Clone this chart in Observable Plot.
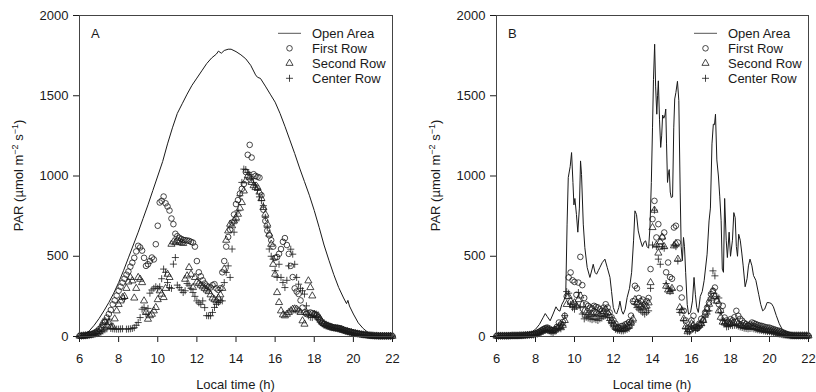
<!DOCTYPE html>
<html><head><meta charset="utf-8">
<script src="https://cdn.jsdelivr.net/npm/d3@7"></script>
<script src="https://cdn.jsdelivr.net/npm/@observablehq/plot@0.6"></script>
<style>
body{margin:0;background:#fff;}
#wrap{display:flex;width:816px;height:392px;overflow:hidden;}
#wrap svg{font-family:"Liberation Sans",Arial,sans-serif;}
</style></head><body><div id="wrap"></div>
<script>
const xTicks = [6, 8, 10, 12, 14, 16, 18, 20, 22];
const yTicks = [0, 500, 1000, 1500, 2000];
const seriesNames = ["Open Area", "First Row", "Second Row", "Center Row"];
const panelLabels = ["A", "B"];
const xTitle = "Local time (h)";
// scatter series are sampled every 0.1 h from 6.0 to 22.0 h
const sampleStart = 6, sampleStep = 0.1;

// ---- Panel A ----
const openATime = [6.0,6.25,6.5,6.75,7.0,7.25,7.5,7.75,8.0,8.25,8.5,8.75,9.0,9.25,9.5,9.75,10.0,10.25,10.5,10.75,11.0,11.25,11.5,11.75,12.0,12.25,12.5,12.75,13.0,13.1,13.25,13.4,13.6,13.75,14.0,14.25,14.5,14.75,15.0,15.1,15.25,15.5,15.75,16.0,16.25,16.5,16.75,17.0,17.25,17.5,17.75,18.0,18.25,18.5,18.75,19.0,19.25,19.5,19.65,19.72,19.8,20.0,20.25,20.5,20.75,21.0,21.5,22.0];
const openAValue = [5,12,35,70,112,160,212,270,336,410,490,570,650,735,820,910,1000,1090,1200,1300,1390,1450,1510,1565,1610,1655,1700,1735,1760,1778,1765,1782,1790,1790,1775,1755,1730,1690,1630,1615,1608,1560,1510,1460,1390,1310,1225,1140,1050,965,880,785,680,570,475,385,305,240,205,225,190,140,85,50,25,8,2,0];
const firstRowA = [3,4,5,6,8,10,13,18,25,33,
45,55,70,90,118,140,165,200,225,255,
285,310,335,360,385,405,435,460,490,530,
565,555,535,490,440,450,470,492,480,575,
690,835,845,872,830,810,785,735,700,640,
625,615,608,602,600,598,596,590,585,560,
470,400,375,350,330,316,308,305,320,326,
300,290,300,400,470,560,620,665,710,760,
825,850,890,920,950,1025,1132,1194,1115,1011,
1000,995,990,880,790,720,660,630,600,560,
490,495,515,545,590,613,570,515,440,370,
300,280,265,225,180,150,140,145,150,145,
139,132,120,100,85,77,72,68,64,60,
56,55,54,52,48,42,38,35,32,28,
25,22,19,16,14,12,10,8,6,5,
4,3,3,2,2,2,2,2,2,2,
2];
const secondRowA = [3,3,4,5,6,8,10,13,17,22,
30,45,87,95,70,87,60,60,110,160,
200,222,243,250,300,340,368,347,240,300,
368,357,336,222,150,108,130,139,160,181,
230,285,264,243,300,388,368,575,590,585,
597,590,585,580,357,378,430,388,305,368,
340,330,320,310,300,290,280,260,240,230,
222,240,260,300,420,600,658,700,690,720,
740,762,800,835,907,970,1001,990,960,940,
928,928,900,860,804,762,700,638,575,450,
388,274,212,160,135,129,139,150,160,170,
172,170,160,150,98,77,150,347,305,253,
139,135,129,110,90,80,72,66,60,56,
52,50,48,46,42,38,34,30,27,24,
21,18,16,14,12,10,8,7,6,5,
4,3,3,2,2,2,2,2,2,2,
2];
const centerRowA = [2,3,4,5,6,8,10,12,15,18,
22,28,35,42,48,108,50,48,47,46,
46,47,48,237,46,47,48,50,55,70,
87,118,170,180,140,175,270,290,300,310,
300,310,360,420,400,336,305,300,451,492,
320,305,290,274,285,330,320,300,274,250,
222,210,200,222,180,130,129,129,150,181,
200,212,222,222,336,399,440,368,545,650,
721,783,877,960,1043,1040,1022,1010,985,960,
939,910,870,846,815,742,680,545,500,482,
410,368,450,368,336,305,350,440,544,513,
450,368,326,300,285,264,191,129,120,118,
129,120,105,90,80,70,66,62,58,55,
52,50,48,45,42,38,34,30,27,24,
21,18,16,14,12,10,8,7,6,5,
4,3,3,2,2,2,2,2,2,2,
2];

// ---- Panel B ----
const openBTime = [6.0,6.5,7.0,7.5,7.8,8.0,8.2,8.4,8.5,8.6,8.75,8.9,9.05,9.15,9.25,9.35,9.45,9.55,9.62,9.68,9.78,9.85,9.92,9.97,10.02,10.1,10.17,10.25,10.31,10.36,10.45,10.53,10.65,10.79,10.9,10.96,11.05,11.13,11.22,11.3,11.42,11.56,11.68,11.82,11.9,11.99,12.08,12.16,12.27,12.33,12.42,12.5,12.6,12.7,12.82,12.93,13.03,13.1,13.18,13.27,13.38,13.48,13.58,13.65,13.72,13.8,13.87,13.94,14.0,14.05,14.11,14.16,14.22,14.26,14.3,14.36,14.42,14.47,14.52,14.58,14.64,14.68,14.72,14.77,14.82,14.86,14.91,14.96,15.03,15.09,15.14,15.2,15.28,15.35,15.42,15.47,15.53,15.59,15.64,15.7,15.78,15.85,15.95,16.05,16.13,16.2,16.27,16.35,16.45,16.55,16.65,16.8,16.9,16.97,17.05,17.12,17.18,17.23,17.3,17.38,17.45,17.52,17.58,17.64,17.7,17.78,17.84,17.93,18.0,18.1,18.17,18.24,18.3,18.36,18.42,18.5,18.58,18.65,18.75,18.85,18.92,19.0,19.1,19.18,19.3,19.45,19.55,19.65,19.75,19.88,20.0,20.1,20.2,20.35,20.5,20.65,20.8,21.0,21.5,22.0];
const openBValue = [5,6,8,15,28,45,75,120,143,125,98,140,185,165,158,200,222,260,700,990,1060,1146,960,820,860,760,650,800,1094,1010,700,554,430,368,420,450,400,388,410,430,460,482,430,368,280,181,150,140,180,220,160,139,170,243,300,400,600,783,760,658,600,560,590,596,560,550,680,960,1300,1600,1821,1560,1385,1500,1593,1350,1178,1250,1380,1360,1380,1417,1200,960,1020,1040,900,866,870,1300,1480,1520,1590,1470,900,560,472,617,560,400,200,139,150,222,368,260,180,150,250,280,350,513,720,800,1200,1323,1320,1385,1100,1000,870,721,420,400,860,600,492,650,500,600,772,740,560,500,637,600,520,440,310,360,440,482,440,380,350,260,200,160,170,212,210,205,185,130,80,45,25,10,5,5];
const firstRowB = [3,3,3,3,3,3,3,4,4,4,
4,5,5,6,7,8,9,10,12,14,
18,24,30,38,46,52,56,50,42,40,
45,60,87,75,90,129,250,368,399,350,
340,260,336,496,320,240,200,191,180,175,
191,185,181,170,160,180,201,181,150,120,
100,80,60,55,65,66,75,80,90,130,
220,316,300,240,220,230,200,220,240,420,
731,845,617,700,560,617,648,400,461,370,
360,679,690,586,300,243,160,100,50,60,
100,129,60,50,80,110,100,150,180,212,
264,285,305,222,201,160,191,118,100,90,
108,100,120,160,129,110,98,85,77,70,
75,87,82,77,72,68,66,62,58,56,
55,50,46,42,38,35,30,25,20,15,
10,7,5,4,4,4,4,4,4,4,
4];
const secondRowB = [3,3,3,3,3,3,3,3,4,4,
4,4,5,5,6,7,8,9,10,12,
15,20,26,32,38,42,45,40,33,30,
40,50,60,55,70,100,200,250,220,200,
210,190,230,253,200,160,150,140,135,140,
150,145,140,135,140,155,170,150,130,100,
80,60,50,45,42,45,50,60,70,90,
110,230,210,200,190,180,185,190,210,336,
679,787,570,520,590,620,560,314,290,280,
300,565,580,482,180,160,110,60,30,40,
80,70,50,60,70,80,100,140,170,201,
240,280,250,220,160,120,90,85,80,78,
80,82,85,90,80,70,66,62,60,58,
60,62,58,55,50,45,43,40,38,36,
35,33,30,27,23,20,16,13,10,8,
6,5,4,4,4,4,4,4,4,4,
4];
const centerRowB = [3,3,3,3,3,3,3,3,4,4,
4,4,5,5,6,6,7,8,9,10,
12,16,22,28,33,38,40,36,28,25,
35,45,50,48,70,130,280,270,200,180,
170,190,274,180,140,110,120,115,110,105,
110,105,100,110,115,125,130,120,100,80,
60,45,40,38,35,35,40,45,50,70,
90,200,180,170,160,150,140,150,160,300,
570,787,560,482,450,560,550,330,300,280,
290,570,560,470,150,170,100,50,30,30,
60,50,40,50,60,70,90,120,140,160,
240,409,378,250,240,150,100,80,60,62,
70,68,70,70,65,60,56,52,50,48,
50,52,48,45,42,40,38,35,33,31,
30,28,25,22,18,15,12,10,8,6,
5,4,4,4,4,4,4,4,4,4,
4];

const FONT = '"Liberation Sans", Arial, sans-serif';
const INK = "#1a1a1a";
const FS = 13;

function toPoints(values) {
  return values.map((v, i) => ({time: +(sampleStart + i * sampleStep).toFixed(2), value: v}));
}

function drawPanel(cfg) {
  const openData = cfg.openTime.map((t, i) => ({time: t, value: cfg.openValue[i]}));
  const dotOpts = {x: "time", y: "value", fill: "none", stroke: INK, strokeWidth: 0.8};
  const svg = Plot.plot({
    width: 408, height: 392,
    marginLeft: cfg.marginLeft, marginRight: cfg.marginRight, marginTop: 15, marginBottom: 56,
    style: {fontFamily: FONT, fontSize: FS + "px", color: INK, background: "white"},
    x: {domain: [6, 22], ticks: xTicks, tickSize: 6, tickPadding: 11, tickFormat: d => String(d), label: null},
    y: {domain: [0, 2000], ticks: yTicks, tickSize: 6, tickPadding: 5, tickFormat: d => String(d), label: null},
    marks: [
      Plot.line(openData, {x: "time", y: "value", stroke: INK, strokeWidth: 1}),
      Plot.dot(toPoints(cfg.first), {...dotOpts, symbol: "circle", r: 2.8}),
      Plot.dot(toPoints(cfg.second), {...dotOpts, symbol: "triangle2", r: 3.4}),
      Plot.dot(toPoints(cfg.center), {...dotOpts, symbol: "plus", r: 2.4}),
      Plot.frame({stroke: "#444", strokeWidth: 1})
    ]
  });
  const s = d3.select(svg);
  const plotLeft = cfg.marginLeft, plotRight = 408 - cfg.marginRight;
  const txt = (x, y, anchor) => s.append("text").attr("x", x).attr("y", y)
    .attr("text-anchor", anchor).attr("font-family", FONT).attr("font-size", FS).attr("fill", INK);
  // panel label
  txt(plotLeft + 12, 37.5, "start").text(cfg.label);
  // y title with superscripts
  const yt = s.append("text")
    .attr("transform", `translate(${cfg.marginLeft - 56},175.5) rotate(-90)`)
    .attr("text-anchor", "middle").attr("font-family", FONT).attr("font-size", FS).attr("fill", INK);
  yt.append("tspan").text("PAR (\u00B5mol m");
  yt.append("tspan").attr("dy", -5).attr("font-size", 9).text("\u22122");
  yt.append("tspan").attr("dy", 5).text(" s");
  yt.append("tspan").attr("dy", -5).attr("font-size", 9).text("\u22121");
  yt.append("tspan").attr("dy", 5).text(")");
  // x title
  txt((plotLeft + plotRight) / 2, 389, "middle").text(xTitle);
  // legend
  const lx = plotRight - 80, rows = [33.3, 48.3, 63.3, 78.3];
  const symX = lx - 22.5;
  s.append("line").attr("x1", lx - 34).attr("x2", lx - 11).attr("y1", rows[0]).attr("y2", rows[0])
    .attr("stroke", "#555").attr("stroke-width", 1);
  s.append("circle").attr("cx", symX).attr("cy", rows[1]).attr("r", 2.8)
    .attr("fill", "none").attr("stroke", INK).attr("stroke-width", 0.8);
  s.append("path").attr("transform", `translate(${symX},${rows[2]})`)
    .attr("d", d3.symbol(d3.symbolTriangle2, Math.PI * 3.4 * 3.4)())
    .attr("fill", "none").attr("stroke", INK).attr("stroke-width", 0.8);
  s.append("path").attr("transform", `translate(${symX},${rows[3]})`)
    .attr("d", d3.symbol(d3.symbolPlus, Math.PI * 2.4 * 2.4)())
    .attr("fill", "none").attr("stroke", INK).attr("stroke-width", 0.8);
  seriesNames.forEach((name, i) => {
    txt(lx, rows[i] + 4.5, "start").text(name);
  });
  document.getElementById("wrap").appendChild(svg);
}

drawPanel({label: panelLabels[0], openTime: openATime, openValue: openAValue,
  first: firstRowA, second: secondRowA, center: centerRowA, marginLeft: 79, marginRight: 16});
drawPanel({label: panelLabels[1], openTime: openBTime, openValue: openBValue,
  first: firstRowB, second: secondRowB, center: centerRowB, marginLeft: 88, marginRight: 8});
</script></body></html>
